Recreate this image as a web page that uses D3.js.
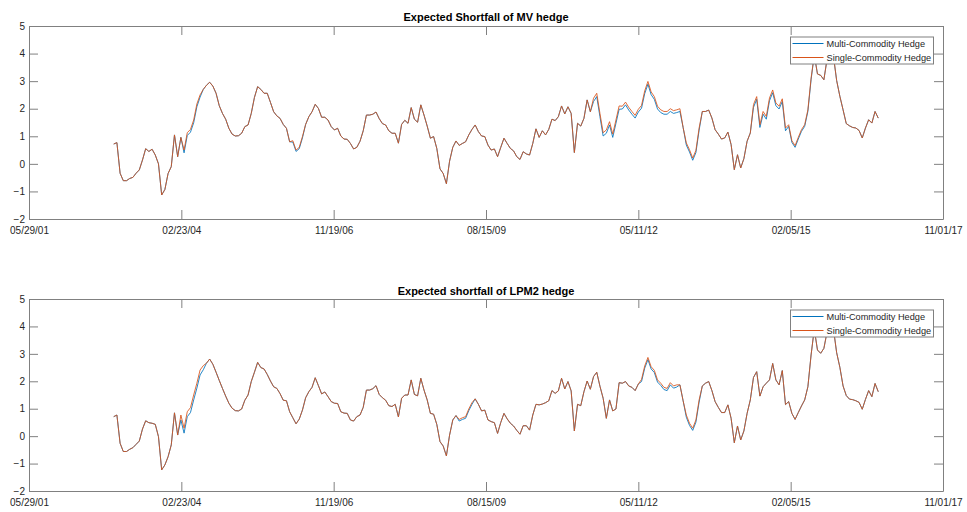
<!DOCTYPE html>
<html>
<head>
<meta charset="utf-8">
<script src="https://cdn.jsdelivr.net/npm/d3@7"></script>
<style>
  body { margin: 0; background: #fff; }
  svg { display: block; font-family: "Liberation Sans", Arial, Helvetica, sans-serif; }
</style>
</head>
<body>
<svg id="chart" width="967" height="512"></svg>
<script>
// series are sampled every 3 weeks starting here
var startDate = "2002-12-06";
var stepDays = 21;

var xTickLabels = ["05/29/01", "02/23/04", "11/19/06", "08/15/09", "05/11/12", "02/05/15", "11/01/17"];
var yTicks = [-2, -1, 0, 1, 2, 3, 4, 5];
var seriesNames = ["Multi-Commodity Hedge", "Single-Commodity Hedge"];
var titles = ["Expected Shortfall of MV hedge", "Expected shortfall of LPM2 hedge"];

// top panel: MV hedge
var mvSingle = [
  0.72, 0.77, -0.34, -0.61, -0.61, -0.53, -0.49, -0.34, -0.22, 0.14,
  0.55, 0.45, 0.53, 0.32, 0.00, -1.13, -0.93, -0.35, -0.10, 1.05,
  0.26, 0.96, 0.50, 1.13, 1.25, 1.59, 2.17, 2.50, 2.70, 2.85,
  2.96, 2.82, 2.56, 2.11, 1.83, 1.62, 1.29, 1.08, 1.01, 1.02,
  1.11, 1.35, 1.41, 1.83, 2.41, 2.80, 2.70, 2.56, 2.56, 2.23,
  1.89, 1.74, 1.65, 1.43, 1.29, 0.80, 0.84, 0.50, 0.60, 0.99,
  1.43, 1.71, 1.89, 2.16, 2.01, 1.69, 1.69, 1.59, 1.35, 1.23,
  1.29, 1.01, 0.90, 0.89, 0.74, 0.54, 0.60, 0.82, 1.20, 1.77,
  1.77, 1.80, 1.88, 1.64, 1.46, 1.41, 1.20, 1.11, 1.11, 0.75,
  1.43, 1.58, 1.47, 2.04, 1.62, 1.51, 2.14, 1.77, 1.37, 0.93,
  0.99, 0.56, -0.18, -0.35, -0.72, 0.10, 0.60, 0.83, 0.67, 0.74,
  0.80, 1.05, 1.25, 1.41, 1.17, 1.01, 0.99, 0.68, 0.50, 0.54,
  0.26, 0.60, 0.93, 0.74, 0.56, 0.47, 0.26, 0.16, 0.44, 0.36,
  0.32, 0.74, 1.27, 0.96, 1.20, 1.05, 1.25, 1.62, 1.57, 1.71,
  2.10, 1.81, 2.07, 1.83, 0.41, 1.47, 1.37, 1.65, 2.32, 1.89,
  2.38, 2.56, 1.83, 1.13, 1.23, 1.53, 1.08, 1.59, 2.10, 2.09,
  2.24, 2.05, 1.90, 1.76, 1.98, 2.12, 2.65, 2.99, 2.61, 2.44,
  2.09, 1.96, 1.90, 1.90, 2.00, 1.93, 1.96, 2.00, 1.32, 0.76,
  0.51, 0.21, 0.49, 1.30, 1.90, 1.90, 1.95, 1.66, 1.24, 1.08,
  0.90, 0.94, 1.15, 0.70, -0.21, 0.33, -0.15, 0.19, 0.82, 1.12,
  2.15, 2.44, 1.42, 1.90, 1.72, 2.39, 2.68, 2.21, 2.09, 2.36,
  1.30, 1.42, 0.84, 0.66, 0.96, 1.24, 1.42, 1.96, 3.11, 3.95,
  3.26, 3.21, 3.05, 3.80, 4.10, 3.90, 3.02, 2.45, 1.96, 1.46,
  1.38, 1.32, 1.30, 1.21, 0.94, 1.30, 1.60, 1.48, 1.90, 1.66
];
var mvMulti = [
  0.72, 0.77, -0.34, -0.61, -0.61, -0.53, -0.49, -0.34, -0.22, 0.14,
  0.55, 0.45, 0.53, 0.32, 0.00, -1.13, -0.93, -0.35, -0.10, 1.05,
  0.26, 0.96, 0.40, 1.03, 1.15, 1.49, 2.07, 2.42, 2.70, 2.85,
  2.96, 2.82, 2.56, 2.11, 1.83, 1.62, 1.29, 1.08, 1.01, 1.02,
  1.11, 1.35, 1.41, 1.83, 2.41, 2.80, 2.70, 2.56, 2.56, 2.23,
  1.89, 1.74, 1.65, 1.43, 1.29, 0.80, 0.79, 0.45, 0.55, 0.94,
  1.43, 1.71, 1.89, 2.16, 2.01, 1.69, 1.69, 1.59, 1.35, 1.23,
  1.29, 1.01, 0.90, 0.89, 0.74, 0.54, 0.60, 0.82, 1.20, 1.77,
  1.77, 1.80, 1.88, 1.64, 1.46, 1.41, 1.20, 1.11, 1.11, 0.75,
  1.43, 1.58, 1.47, 2.04, 1.62, 1.51, 2.14, 1.77, 1.37, 0.93,
  0.99, 0.56, -0.18, -0.35, -0.72, 0.10, 0.60, 0.83, 0.67, 0.74,
  0.80, 1.05, 1.25, 1.41, 1.17, 1.01, 0.99, 0.68, 0.50, 0.54,
  0.26, 0.60, 0.93, 0.74, 0.56, 0.47, 0.26, 0.16, 0.44, 0.36,
  0.32, 0.74, 1.27, 0.96, 1.20, 1.05, 1.25, 1.62, 1.57, 1.71,
  2.10, 1.81, 2.07, 1.83, 0.41, 1.47, 1.37, 1.65, 2.32, 1.89,
  2.26, 2.44, 1.71, 1.01, 1.11, 1.41, 0.96, 1.47, 1.98, 1.99,
  2.14, 1.95, 1.80, 1.66, 1.88, 2.02, 2.55, 2.89, 2.51, 2.34,
  1.99, 1.86, 1.80, 1.80, 1.90, 1.83, 1.86, 1.90, 1.32, 0.68,
  0.43, 0.13, 0.41, 1.22, 1.90, 1.90, 1.95, 1.66, 1.24, 1.08,
  0.90, 0.94, 1.15, 0.70, -0.21, 0.33, -0.15, 0.19, 0.82, 1.12,
  2.05, 2.34, 1.32, 1.80, 1.62, 2.29, 2.58, 2.11, 1.99, 2.26,
  1.20, 1.36, 0.78, 0.60, 0.90, 1.18, 1.36, 1.90, 3.05, 3.95,
  3.26, 3.21, 3.05, 3.80, 4.10, 3.90, 3.02, 2.45, 1.96, 1.46,
  1.38, 1.32, 1.30, 1.21, 0.94, 1.30, 1.60, 1.48, 1.90, 1.66
];

// bottom panel: LPM2 hedge
var lpmSingle = [
  0.71, 0.77, -0.26, -0.56, -0.56, -0.48, -0.42, -0.30, -0.18, 0.26,
  0.56, 0.49, 0.47, 0.43, -0.02, -1.23, -1.05, -0.75, -0.32, 0.85,
  0.04, 0.77, 0.29, 0.89, 1.04, 1.50, 1.93, 2.41, 2.57, 2.66,
  2.81, 2.62, 2.33, 2.03, 1.74, 1.46, 1.20, 1.02, 0.93, 0.92,
  0.99, 1.31, 1.50, 1.99, 2.33, 2.69, 2.50, 2.45, 2.25, 2.01,
  1.80, 1.74, 1.55, 1.31, 1.29, 0.89, 0.67, 0.45, 0.62, 0.95,
  1.40, 1.62, 1.78, 2.13, 1.84, 1.54, 1.61, 1.44, 1.26, 1.20,
  1.19, 0.89, 0.84, 0.83, 0.59, 0.55, 0.71, 0.77, 1.05, 1.68,
  1.68, 1.73, 1.84, 1.52, 1.40, 1.31, 1.11, 1.08, 1.16, 0.70,
  1.38, 1.50, 1.50, 2.05, 1.52, 1.47, 2.11, 1.68, 1.32, 0.83,
  0.80, 0.43, -0.20, -0.36, -0.72, 0.04, 0.59, 0.75, 0.61, 0.67,
  0.71, 0.99, 1.22, 1.36, 1.16, 0.92, 0.95, 0.59, 0.53, 0.49,
  0.10, 0.50, 0.83, 0.63, 0.47, 0.37, 0.21, 0.07, 0.38, 0.38,
  0.22, 0.77, 1.16, 1.14, 1.17, 1.22, 1.29, 1.66, 1.56, 1.65,
  2.11, 1.72, 1.99, 1.65, 0.19, 1.16, 1.11, 1.62, 2.01, 1.71,
  2.17, 2.33, 1.82, 1.38, 0.65, 1.32, 0.92, 0.99, 1.95, 1.93,
  1.99, 1.83, 1.78, 1.66, 1.90, 2.07, 2.56, 2.87, 2.53, 2.40,
  2.05, 1.93, 1.78, 1.74, 1.95, 1.83, 1.87, 1.87, 1.29, 0.77,
  0.47, 0.29, 0.59, 1.32, 1.83, 1.93, 1.99, 1.66, 1.26, 1.05,
  0.86, 0.86, 1.14, 0.65, -0.24, 0.37, -0.14, 0.19, 0.83, 1.32,
  2.14, 2.35, 1.46, 1.80, 1.93, 2.05, 2.65, 2.05, 1.87, 2.39,
  1.15, 1.26, 0.83, 0.61, 0.86, 1.10, 1.32, 1.80, 2.96, 3.90,
  3.14, 3.02, 3.20, 3.80, 4.10, 3.90, 3.04, 2.51, 1.83, 1.48,
  1.35, 1.33, 1.29, 1.23, 0.98, 1.34, 1.66, 1.44, 1.92, 1.62
];
var lpmMulti = [
  0.71, 0.77, -0.26, -0.56, -0.56, -0.48, -0.42, -0.30, -0.18, 0.26,
  0.56, 0.49, 0.47, 0.43, -0.02, -1.23, -1.05, -0.75, -0.32, 0.85,
  0.04, 0.59, 0.11, 0.71, 0.86, 1.32, 1.75, 2.23, 2.42, 2.66,
  2.81, 2.62, 2.33, 2.03, 1.74, 1.46, 1.20, 1.02, 0.93, 0.92,
  0.99, 1.31, 1.50, 1.99, 2.33, 2.69, 2.50, 2.45, 2.25, 2.01,
  1.80, 1.74, 1.55, 1.31, 1.29, 0.89, 0.67, 0.45, 0.62, 0.95,
  1.40, 1.62, 1.78, 2.13, 1.84, 1.54, 1.61, 1.44, 1.26, 1.20,
  1.19, 0.89, 0.84, 0.83, 0.59, 0.55, 0.71, 0.77, 1.05, 1.68,
  1.68, 1.73, 1.84, 1.52, 1.40, 1.31, 1.11, 1.08, 1.16, 0.70,
  1.38, 1.50, 1.50, 2.05, 1.52, 1.47, 2.11, 1.68, 1.32, 0.83,
  0.80, 0.43, -0.20, -0.36, -0.72, 0.04, 0.59, 0.75, 0.55, 0.61,
  0.65, 0.93, 1.16, 1.36, 1.16, 0.92, 0.95, 0.59, 0.53, 0.49,
  0.10, 0.50, 0.83, 0.63, 0.47, 0.37, 0.21, 0.07, 0.38, 0.38,
  0.22, 0.77, 1.16, 1.14, 1.17, 1.22, 1.29, 1.66, 1.56, 1.65,
  2.11, 1.72, 1.99, 1.65, 0.19, 1.16, 1.11, 1.62, 2.01, 1.71,
  2.17, 2.33, 1.82, 1.38, 0.65, 1.32, 0.92, 0.99, 1.95, 1.93,
  1.99, 1.83, 1.78, 1.66, 1.90, 1.99, 2.48, 2.79, 2.45, 2.32,
  1.97, 1.85, 1.70, 1.66, 1.87, 1.75, 1.79, 1.87, 1.29, 0.69,
  0.39, 0.21, 0.51, 1.24, 1.83, 1.93, 1.99, 1.66, 1.26, 1.05,
  0.86, 0.86, 1.14, 0.65, -0.24, 0.37, -0.14, 0.19, 0.83, 1.32,
  2.14, 2.35, 1.46, 1.80, 1.93, 2.05, 2.65, 2.05, 1.87, 2.39,
  1.15, 1.26, 0.83, 0.61, 0.86, 1.10, 1.32, 1.80, 2.96, 3.90,
  3.14, 3.02, 3.20, 3.80, 4.10, 3.90, 3.04, 2.51, 1.83, 1.48,
  1.35, 1.33, 1.29, 1.23, 0.98, 1.34, 1.66, 1.44, 1.92, 1.62
];

var colors = ["#0072BD", "#D95319"];
var axisColor = "#808080";
var textColor = "#262626";

var svg = d3.select("#chart");
var parseTick = d3.timeParse("%m/%d/%y");
var fmtTick = d3.timeFormat("%m/%d/%y");
var tickDates = xTickLabels.map(parseTick);
var t0 = d3.timeParse("%Y-%m-%d")(startDate);
var dates = mvSingle.map(function(d, i) { return d3.timeDay.offset(t0, i * stepDays); });

var x = d3.scaleTime()
  .domain([tickDates[0], tickDates[tickDates.length - 1]])
  .range([29, 943]);

var panels = [
  { title: titles[0], multi: mvMulti, single: mvSingle, top: 26, bottom: 219, titleY: 21 },
  { title: titles[1], multi: lpmMulti, single: lpmSingle, top: 299, bottom: 491, titleY: 294.5 }
];

function styleAxis(g) {
  g.attr("font-family", null).attr("font-size", null);
  g.select(".domain").attr("stroke", axisColor);
  g.selectAll(".tick line").attr("stroke", axisColor);
  g.selectAll(".tick text").attr("fill", textColor).style("font-size", "10px");
}

panels.forEach(function(p) {
  var y = d3.scaleLinear().domain([-2, 5]).range([p.bottom, p.top]);
  var g = svg.append("g");

  // lines: multi underneath, single on top
  [p.multi, p.single].forEach(function(vals, k) {
    var line = d3.line()
      .x(function(d, i) { return x(dates[i]); })
      .y(function(d) { return y(d); });
    g.append("path")
      .datum(vals)
      .attr("fill", "none")
      .attr("stroke", colors[k])
      .attr("stroke-width", 0.85)
      .attr("stroke-linejoin", "round")
      .attr("d", line);
  });

  // box axes, ticks pointing in
  g.append("g").attr("transform", "translate(0," + p.bottom + ")")
    .call(d3.axisBottom(x).tickValues(tickDates).tickFormat(fmtTick)
      .tickSizeInner(-9).tickSizeOuter(0).tickPadding(8))
    .call(styleAxis);
  g.append("g").attr("transform", "translate(0," + p.top + ")")
    .call(d3.axisTop(x).tickValues(tickDates).tickFormat("")
      .tickSizeInner(-9).tickSizeOuter(0))
    .call(styleAxis);
  g.append("g").attr("transform", "translate(" + x.range()[0] + ",0)")
    .call(d3.axisLeft(y).tickValues(yTicks).tickFormat(d3.format("d"))
      .tickSizeInner(-9).tickSizeOuter(0).tickPadding(4))
    .call(styleAxis);
  g.append("g").attr("transform", "translate(" + x.range()[1] + ",0)")
    .call(d3.axisRight(y).tickValues(yTicks).tickFormat("")
      .tickSizeInner(-9).tickSizeOuter(0))
    .call(styleAxis);

  // title
  g.append("text")
    .attr("x", (x.range()[0] + x.range()[1]) / 2)
    .attr("y", p.titleY)
    .attr("text-anchor", "middle")
    .attr("fill", "#000")
    .style("font-size", "11px")
    .style("font-weight", "bold")
    .text(p.title);

  // legend
  var lg = g.append("g").attr("transform", "translate(790.5," + (p.top + 11) + ")");
  lg.append("rect")
    .attr("width", 143).attr("height", 27)
    .attr("fill", "#fff").attr("stroke", axisColor).attr("stroke-width", 1);
  seriesNames.forEach(function(name, k) {
    var ly = 6.5 + k * 14;
    lg.append("line")
      .attr("x1", 2).attr("x2", 33).attr("y1", ly).attr("y2", ly)
      .attr("stroke", colors[k]).attr("stroke-width", 1);
    lg.append("text")
      .attr("x", 36).attr("y", ly + 3.3)
      .attr("fill", textColor)
      .style("font-size", "9.2px")
      .text(name);
  });
});
</script>
</body>
</html>
